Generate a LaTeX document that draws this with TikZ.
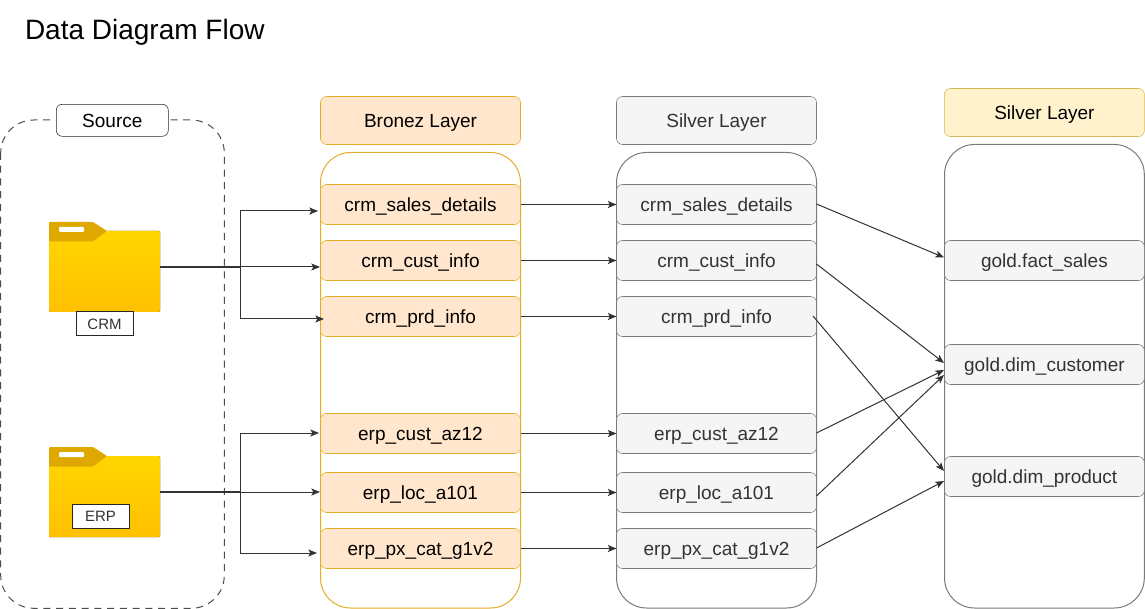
\documentclass[tikz,border=0pt]{standalone}
\usepackage{fontspec}
\setmainfont{Liberation Sans}
\usetikzlibrary{arrows.meta}
\definecolor{bronzeFill}{HTML}{FFE6CC}
\definecolor{bronzeLine}{HTML}{E3AC25}
\definecolor{silverFill}{HTML}{F5F5F5}
\definecolor{silverLine}{HTML}{7A7A7A}
\definecolor{silverText}{HTML}{333333}
\definecolor{goldFill}{HTML}{FFF2CC}
\definecolor{goldLine}{HTML}{D6B656}
\definecolor{folderTab}{HTML}{DFA800}
\definecolor{folderTop}{HTML}{FFD600}
\definecolor{folderEnd}{HTML}{FFC000}
\begin{document}
\begin{tikzpicture}[x=0.75pt, y=-0.75pt,
    every node/.style = {inner sep=0pt, outer sep=0pt},
    layerfont/.style = {font=\fontsize{14.25}{17}\selectfont, text height=11pt, text depth=0.8pt},
    rowbox/.style = {draw, rounded corners=4.5pt, minimum width=150pt, minimum height=30pt, layerfont},
    bronzerow/.style = {rowbox, draw=bronzeLine, fill=bronzeFill},
    silverrow/.style = {rowbox, draw=silverLine, fill=silverFill, text=silverText},
    titlebox/.style = {rowbox, minimum height=36pt},
    holder/.style = {draw, rounded corners=22.5pt, line width=0.75pt},
    namebox/.style = {draw=black!85, fill=white, line width=0.75pt, minimum width=42.75pt, minimum height=18pt, text=silverText, font=\fontsize{11.25}{14}\selectfont},
    link/.style = {draw=black!80, line width=0.75pt, -{Stealth[length=6.5pt, width=5.25pt, inset=1.5pt]}},
    bus/.style = {draw=black!80, line width=0.75pt},
    folder/.pic = {
      \fill[top color=folderTop, bottom color=folderEnd, rounded corners=0.75pt] (0,9) rectangle (111,90);
      \fill[folderTab, rounded corners=0.75pt] (0,0) -- (44,0) -- (58,9) -- (44,19.5) -- (0,19.5) -- cycle;
      \fill[white, rounded corners=0.75pt] (10,5) rectangle (35,10);
    }]
  \useasboundingbox (0,0) rectangle (1145,609);

  \node[anchor=west, font=\fontsize{21}{25}\selectfont] (diagramTitle) at (25,32) {Data Diagram Flow};

  % source side
  \draw[holder, draw=black!70, dash pattern=on 5.25pt off 4.3pt, rounded corners=24.75pt] (0.7,120) rectangle (224.3,608.3);
  \node[rowbox, draw=black!85, fill=white, minimum width=84pt, minimum height=24pt] (sourceTitle) at (112.3,120.3) {Source};
  \pic at (49,222) {folder};
  \pic at (49,447) {folder};
  \node[minimum width=83.25pt, minimum height=67.5pt] (crmFolder) at (104.5,267) {};
  \node[minimum width=83.25pt, minimum height=67.5pt] (erpFolder) at (104.5,492) {};
  \node[namebox] (crmName) at (104.5,324) {CRM};
  \node[namebox] (erpName) at (100.5,516) {ERP};

  % layer holders
  \draw[holder, draw=bronzeLine] (320.5,152.5) rectangle (520.5,608);
  \draw[holder, draw=silverLine] (616.5,152.5) rectangle (816.5,608);
  \draw[holder, draw=silverLine] (944.5,144.5) rectangle (1144.3,608);

  % bronze
  \node[titlebox, draw=bronzeLine, fill=bronzeFill] (bronzeTitle) at (420.5,120.5) {Bronez Layer};
  \node[bronzerow] (bronzeSales) at (420.5,204.5) {crm\_sales\_details};
  \node[bronzerow] (bronzeCust) at (420.5,260.5) {crm\_cust\_info};
  \node[bronzerow] (bronzePrd) at (420.5,316.5) {crm\_prd\_info};
  \node[bronzerow] (bronzeAz) at (420.5,433.5) {erp\_cust\_az12};
  \node[bronzerow] (bronzeLoc) at (420.5,492.5) {erp\_loc\_a101};
  \node[bronzerow] (bronzeCat) at (420.5,548.5) {erp\_px\_cat\_g1v2};

  % silver
  \node[titlebox, draw=silverLine, fill=silverFill, text=silverText] (silverTitle) at (716.5,120.5) {Silver Layer};
  \node[silverrow] (silverSales) at (716.5,204.5) {crm\_sales\_details};
  \node[silverrow] (silverCust) at (716.5,260.5) {crm\_cust\_info};
  \node[silverrow] (silverPrd) at (716.5,316.5) {crm\_prd\_info};
  \node[silverrow] (silverAz) at (716.5,433.5) {erp\_cust\_az12};
  \node[silverrow] (silverLoc) at (716.5,492.5) {erp\_loc\_a101};
  \node[silverrow] (silverCat) at (716.5,548.5) {erp\_px\_cat\_g1v2};

  % gold
  \node[titlebox, draw=goldLine, fill=goldFill] (goldTitle) at (1044.4,112.5) {Silver Layer};
  \node[silverrow, minimum width=149.85pt] (goldSales) at (1044.4,260.5) {gold.fact\_sales};
  \node[silverrow, minimum width=149.85pt] (goldCustomer) at (1044.4,364.5) {gold.dim\_customer};
  \node[silverrow, minimum width=149.85pt] (goldProduct) at (1044.4,476.5) {gold.dim\_product};

  % free ends
  \coordinate (crmBus) at (240.5,267);
  \coordinate (crmTop) at (318,211);
  \coordinate (crmMid) at (320,267);
  \coordinate (crmLow) at (324,319);
  \coordinate (erpBus) at (240.5,492);
  \coordinate (erpTop) at (319,433);
  \coordinate (erpMid) at (320,492);
  \coordinate (erpLow) at (317,553);
  \coordinate (outSales) at (816.5,204);
  \coordinate (outCust) at (816.5,264);
  \coordinate (outPrd) at (813,316);
  \coordinate (outAz) at (816.5,433);
  \coordinate (outLoc) at (816.5,496);
  \coordinate (outCat) at (816.5,548);
  \coordinate (inSales) at (944,257.5);
  \coordinate (inCustA) at (944,363);
  \coordinate (inCustB) at (944,370);
  \coordinate (inCustC) at (944,375);
  \coordinate (inPrdA) at (944,471);
  \coordinate (inPrdB) at (944,481);

  % source to bronze
  \draw[bus, line width=1.2pt] (crmFolder.east) -- (crmBus);
  \draw[link] (crmBus) |- (crmTop);
  \draw[link] (crmBus) -- (crmMid);
  \draw[link] (crmBus) |- (crmLow);
  \draw[bus, line width=1pt] (erpFolder.east) -- (erpBus);
  \draw[link] (erpBus) |- (erpTop);
  \draw[link] (erpBus) -- (erpMid);
  \draw[link] (erpBus) |- (erpLow);

  % bronze to silver
  \draw[link] (bronzeSales) -- (silverSales);
  \draw[link] (bronzeCust) -- (silverCust);
  \draw[link] (bronzePrd) -- (silverPrd);
  \draw[link] (bronzeAz) -- (silverAz);
  \draw[link] (bronzeLoc) -- (silverLoc);
  \draw[link] (bronzeCat) -- (silverCat);

  % silver to gold
  \draw[link] (outSales) -- (inSales);
  \draw[link] (outCust) -- (inCustA);
  \draw[link] (outPrd) -- (inPrdA);
  \draw[link] (outAz) -- (inCustB);
  \draw[link] (outLoc) -- (inCustC);
  \draw[link] (outCat) -- (inPrdB);
\end{tikzpicture}
\end{document}
